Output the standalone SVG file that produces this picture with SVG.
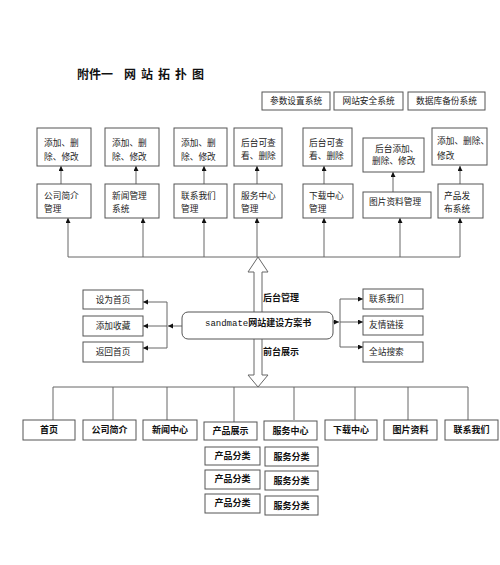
<svg xmlns="http://www.w3.org/2000/svg" width="500" height="565" viewBox="0 0 500 565">
<style>
.bx{fill:#fff;stroke:#555;stroke-width:1}
.ln{fill:none;stroke:#666;stroke-width:1}
.t{font-family:"Liberation Sans","Noto Sans CJK SC",sans-serif;font-size:8.7px;fill:#222}
.tb{font-family:"Liberation Sans","Noto Sans CJK SC",sans-serif;font-size:9px;font-weight:bold;fill:#111}
.c{text-anchor:middle}
.title{font-family:"Liberation Serif","Noto Sans CJK SC",serif;font-size:12px;font-weight:bold;fill:#111}
</style>
<defs>
<marker id="ah" markerUnits="userSpaceOnUse" markerWidth="6" markerHeight="6" refX="5" refY="2.5" orient="auto">
<path d="M0,0 L5,2.5 L0,5 z" fill="#111"/>
</marker>
</defs>
<rect width="500" height="565" fill="#fff"/>

<g id="title">
<text class="title" x="77" y="79">附件一<tspan x="124">网</tspan><tspan x="141">站</tspan><tspan x="158">拓</tspan><tspan x="175">扑</tspan><tspan x="192">图</tspan></text>
</g>

<g id="sys1"><rect class="bx" x="262" y="92" width="68" height="18"/><text class="t c" x="296" y="104">参数设置系统</text></g>
<g id="sys2"><rect class="bx" x="334" y="92" width="69" height="18"/><text class="t c" x="368.5" y="104">网站安全系统</text></g>
<g id="sys3"><rect class="bx" x="408" y="92" width="77" height="18"/><text class="t c" x="446.5" y="104">数据库备份系统</text></g>

<g id="connectors">
<line class="ln" x1="68" y1="257" x2="460" y2="257"/>
<line class="ln" x1="68" y1="257" x2="68" y2="218" marker-end="url(#ah)"/>
<line class="ln" x1="143" y1="257" x2="143" y2="218" marker-end="url(#ah)"/>
<line class="ln" x1="204" y1="257" x2="204" y2="218" marker-end="url(#ah)"/>
<line class="ln" x1="257" y1="257" x2="257" y2="218" marker-end="url(#ah)"/>
<line class="ln" x1="324" y1="257" x2="324" y2="218" marker-end="url(#ah)"/>
<line class="ln" x1="400" y1="257" x2="400" y2="218" marker-end="url(#ah)"/>
<line class="ln" x1="460" y1="257" x2="460" y2="218" marker-end="url(#ah)"/>
<line class="ln" x1="61" y1="184" x2="61" y2="166" marker-end="url(#ah)"/>
<line class="ln" x1="136" y1="184" x2="136" y2="166" marker-end="url(#ah)"/>
<line class="ln" x1="204" y1="184" x2="204" y2="166" marker-end="url(#ah)"/>
<line class="ln" x1="257" y1="184" x2="257" y2="166" marker-end="url(#ah)"/>
<line class="ln" x1="324" y1="184" x2="324" y2="166" marker-end="url(#ah)"/>
<line class="ln" x1="393" y1="192" x2="393" y2="172" marker-end="url(#ah)"/>
<line class="ln" x1="460" y1="184" x2="460" y2="166" marker-end="url(#ah)"/>
<polygon points="258,257 268,272 262,272 262,375 268,375 258,387 248,375 254,375 254,272 248,272" fill="#fff" stroke="#666" stroke-width="1"/>
<line class="ln" x1="182" y1="326" x2="168" y2="326" marker-end="url(#ah)"/>
<polyline class="ln" points="167,302 167,348"/>
<line class="ln" x1="167" y1="302" x2="143" y2="302" marker-end="url(#ah)"/>
<line class="ln" x1="167" y1="326" x2="143" y2="326" marker-end="url(#ah)"/>
<line class="ln" x1="167" y1="348" x2="143" y2="348" marker-end="url(#ah)"/>
<line class="ln" x1="333" y1="322" x2="339" y2="322" marker-end="url(#ah)"/>
<polyline class="ln" points="340,299 340,347"/>
<line class="ln" x1="340" y1="299" x2="363" y2="299" marker-end="url(#ah)"/>
<line class="ln" x1="340" y1="322" x2="363" y2="322" marker-end="url(#ah)"/>
<line class="ln" x1="340" y1="347" x2="363" y2="347" marker-end="url(#ah)"/>
<line class="ln" x1="53" y1="387" x2="468" y2="387"/>
<line class="ln" x1="53" y1="387" x2="53" y2="420"/>
<line class="ln" x1="113" y1="387" x2="113" y2="420"/>
<line class="ln" x1="167" y1="387" x2="167" y2="420"/>
<line class="ln" x1="234" y1="387" x2="234" y2="422"/>
<line class="ln" x1="294" y1="387" x2="294" y2="420"/>
<line class="ln" x1="355" y1="387" x2="355" y2="420"/>
<line class="ln" x1="408" y1="387" x2="408" y2="420"/>
<line class="ln" x1="468" y1="387" x2="468" y2="420"/>
</g>

<g id="op1"><rect class="bx" x="37" y="128" width="54" height="38"/><text class="t" x="44" y="146">添加、删</text><text class="t" x="44" y="160">除、修改</text></g>
<g id="op2"><rect class="bx" x="105" y="128" width="54" height="38"/><text class="t" x="112" y="146">添加、删</text><text class="t" x="112" y="160">除、修改</text></g>
<g id="op3"><rect class="bx" x="174" y="128" width="53" height="38"/><text class="t" x="181" y="146">添加、删</text><text class="t" x="181" y="160">除、修改</text></g>
<g id="op4"><rect class="bx" x="234" y="128" width="48" height="38"/><text class="t" x="241" y="146">后台可查</text><text class="t" x="241" y="159">看、删除</text></g>
<g id="op5"><rect class="bx" x="303" y="128" width="49" height="38"/><text class="t" x="309" y="146">后台可查</text><text class="t" x="309" y="159">看、删除</text></g>
<g id="op6"><rect class="bx" x="363" y="138" width="61" height="34"/><text class="t" x="375" y="152">后台添加、</text><text class="t" x="372" y="164">删除、修改</text></g>
<g id="op7"><rect class="bx" x="432" y="128" width="55" height="37"/><text class="t" x="437" y="144" font-size="8px">添加、删除、</text><text class="t" x="437" y="159">修改</text></g>

<g id="m1"><rect class="bx" x="37" y="184" width="54" height="34"/><text class="t" x="44" y="199">公司简介</text><text class="t" x="44" y="212">管理</text></g>
<g id="m2"><rect class="bx" x="105" y="184" width="54" height="34"/><text class="t" x="112" y="199">新闻管理</text><text class="t" x="112" y="212">系统</text></g>
<g id="m3"><rect class="bx" x="174" y="184" width="53" height="34"/><text class="t" x="181" y="199">联系我们</text><text class="t" x="181" y="212">管理</text></g>
<g id="m4"><rect class="bx" x="234" y="184" width="48" height="34"/><text class="t" x="241" y="199">服务中心</text><text class="t" x="241" y="212">管理</text></g>
<g id="m5"><rect class="bx" x="303" y="184" width="50" height="34"/><text class="t" x="309" y="199">下载中心</text><text class="t" x="309" y="212">管理</text></g>
<g id="m6"><rect class="bx" x="363" y="192" width="68" height="26"/><text class="t" x="369" y="205">图片资料管理</text></g>
<g id="m7"><rect class="bx" x="438" y="184" width="45" height="34"/><text class="t" x="444" y="199">产品发</text><text class="t" x="444" y="212">布系统</text></g>

<g id="center"><rect x="182" y="312" width="151" height="27" rx="6" ry="6" fill="#fff" stroke="#555"/><text x="205" y="326" font-family="Liberation Mono,monospace" font-size="9" fill="#111">sandmate<tspan font-family="Noto Sans CJK SC,sans-serif" font-weight="bold">网站建设方案书</tspan></text></g>
<g id="lbl-back"><text class="tb" x="263" y="301">后台管理</text></g>
<g id="lbl-front"><text class="tb" x="263" y="355">前台展示</text></g>

<g id="l1"><rect class="bx" x="83" y="290" width="60" height="19"/><text class="t c" x="113" y="303">设为首页</text></g>
<g id="l2"><rect class="bx" x="83" y="316" width="60" height="20"/><text class="t c" x="113" y="329">添加收藏</text></g>
<g id="l3"><rect class="bx" x="83" y="342" width="60" height="20"/><text class="t c" x="113" y="355">返回首页</text></g>

<g id="r1"><rect class="bx" x="363" y="289" width="60" height="20"/><text class="t" x="369" y="302">联系我们</text></g>
<g id="r2"><rect class="bx" x="363" y="316" width="60" height="19"/><text class="t" x="369" y="328">友情链接</text></g>
<g id="r3"><rect class="bx" x="363" y="342" width="60" height="20"/><text class="t" x="369" y="355">全站搜索</text></g>

<g id="b1"><rect class="bx" x="23" y="420" width="52" height="20"/><text class="tb c" x="49" y="433">首页</text></g>
<g id="b2"><rect class="bx" x="83" y="420" width="53" height="20"/><text class="tb c" x="109.5" y="433">公司简介</text></g>
<g id="b3"><rect class="bx" x="143" y="420" width="54" height="20"/><text class="tb c" x="170" y="433">新闻中心</text></g>
<g id="b4"><rect class="bx" x="204" y="422" width="53" height="18"/><text class="tb c" x="230.5" y="434">产品展示</text></g>
<g id="b5"><rect class="bx" x="264" y="421" width="53" height="19"/><text class="tb c" x="290.5" y="434">服务中心</text></g>
<g id="b6"><rect class="bx" x="325" y="420" width="52" height="20"/><text class="tb c" x="351" y="433">下载中心</text></g>
<g id="b7"><rect class="bx" x="384" y="420" width="53" height="20"/><text class="tb c" x="410.5" y="433">图片资料</text></g>
<g id="b8"><rect class="bx" x="445" y="420" width="53" height="20"/><text class="tb c" x="471.5" y="433">联系我们</text></g>

<g id="p1"><rect class="bx" x="205" y="447" width="55" height="18"/><text class="tb c" x="232.5" y="459">产品分类</text></g>
<g id="p2"><rect class="bx" x="205" y="470" width="55" height="19"/><text class="tb c" x="232.5" y="482">产品分类</text></g>
<g id="p3"><rect class="bx" x="205" y="494" width="55" height="19"/><text class="tb c" x="232.5" y="506">产品分类</text></g>
<g id="s1"><rect class="bx" x="265" y="447" width="53" height="19"/><text class="tb c" x="291.5" y="460">服务分类</text></g>
<g id="s2"><rect class="bx" x="265" y="471" width="53" height="19"/><text class="tb c" x="291.5" y="484">服务分类</text></g>
<g id="s3"><rect class="bx" x="265" y="496" width="53" height="19"/><text class="tb c" x="291.5" y="509">服务分类</text></g>
</svg>
